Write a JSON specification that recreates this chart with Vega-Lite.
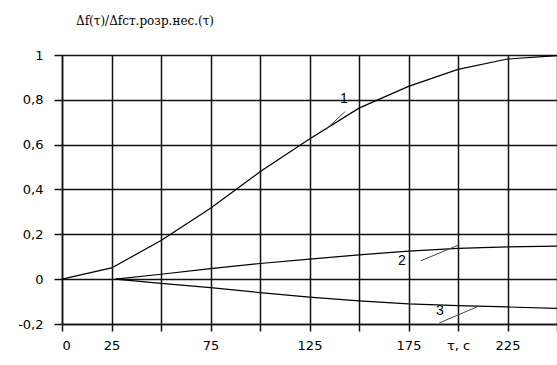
{
  "$schema": "https://vega.github.io/schema/vega-lite/v6.json",
  "width": 495,
  "height": 269,
  "autosize": {"type": "none"},
  "padding": {"left": 62, "top": 55, "right": 0, "bottom": 41},
  "background": "white",
  "config": {
    "view": {"stroke": null},
    "axis": {
      "gridColor": "#111",
      "gridWidth": 1.5,
      "gridOpacity": 1,
      "domainColor": "#111",
      "domainWidth": 1.5,
      "tickColor": "#111",
      "tickWidth": 1.5,
      "tickSize": 7,
      "labelFont": "DejaVu Sans",
      "labelFontSize": 13,
      "labelColor": "#000",
      "title": null
    }
  },
  "title": {
    "text": "Δf(τ)/Δfст.розр.нес.(τ)",
    "anchor": "start",
    "frame": "group",
    "dx": 14,
    "offset": 21,
    "font": "DejaVu Serif",
    "fontSize": 12,
    "fontWeight": "normal",
    "color": "#000"
  },
  "datasets": {
    "curves": [
      {"t": 0, "v": 0, "s": "1"},
      {"t": 25, "v": 0.05, "s": "1"},
      {"t": 50, "v": 0.172, "s": "1"},
      {"t": 75, "v": 0.316, "s": "1"},
      {"t": 100, "v": 0.479, "s": "1"},
      {"t": 125, "v": 0.625, "s": "1"},
      {"t": 150, "v": 0.763, "s": "1"},
      {"t": 175, "v": 0.86, "s": "1"},
      {"t": 200, "v": 0.936, "s": "1"},
      {"t": 225, "v": 0.982, "s": "1"},
      {"t": 250, "v": 0.997, "s": "1"},
      {"t": 27, "v": 0, "s": "2"},
      {"t": 50, "v": 0.022, "s": "2"},
      {"t": 75, "v": 0.047, "s": "2"},
      {"t": 100, "v": 0.07, "s": "2"},
      {"t": 125, "v": 0.089, "s": "2"},
      {"t": 150, "v": 0.108, "s": "2"},
      {"t": 175, "v": 0.125, "s": "2"},
      {"t": 200, "v": 0.137, "s": "2"},
      {"t": 225, "v": 0.144, "s": "2"},
      {"t": 250, "v": 0.147, "s": "2"},
      {"t": 27, "v": 0, "s": "3"},
      {"t": 50, "v": -0.019, "s": "3"},
      {"t": 75, "v": -0.038, "s": "3"},
      {"t": 100, "v": -0.06, "s": "3"},
      {"t": 125, "v": -0.08, "s": "3"},
      {"t": 150, "v": -0.097, "s": "3"},
      {"t": 175, "v": -0.11, "s": "3"},
      {"t": 200, "v": -0.118, "s": "3"},
      {"t": 225, "v": -0.124, "s": "3"},
      {"t": 250, "v": -0.13, "s": "3"}
    ],
    "leaders": [
      {"t": 142.9, "v": 0.747, "k": "1"},
      {"t": 133.3, "v": 0.668, "k": "1"},
      {"t": 181.2, "v": 0.082, "k": "2"},
      {"t": 200.2, "v": 0.152, "k": "2"},
      {"t": 190.6, "v": -0.195, "k": "3"},
      {"t": 210.3, "v": -0.121, "k": "3"}
    ],
    "labels": [
      {"t": 142.4, "v": 0.804, "txt": "1", "f": "DejaVu Serif"},
      {"t": 171.7, "v": 0.081, "txt": "2", "f": "DejaVu Sans"},
      {"t": 190.9, "v": -0.141, "txt": "3", "f": "DejaVu Sans"}
    ]
  },
  "layer": [
    {
      "data": {"name": "curves"},
      "mark": {"type": "line", "color": "#000", "strokeWidth": 1.2},
      "encoding": {
        "x": {
          "field": "t", "type": "quantitative",
          "scale": {"domain": [0, 250], "nice": false, "zero": false},
          "axis": {
            "values": [0, 25, 50, 75, 100, 125, 150, 175, 200, 225, 250],
            "labelPadding": 8,
            "labelExpr": "datum.value == 200 ? 'τ, с' : (datum.value == 50 || datum.value == 100 || datum.value == 150 || datum.value == 250) ? '' : datum.label"
          }
        },
        "y": {
          "field": "v", "type": "quantitative",
          "scale": {"domain": [-0.2, 1], "nice": false, "zero": false},
          "axis": {
            "values": [-0.2, 0, 0.2, 0.4, 0.6, 0.8, 1],
            "tickSize": 8,
            "labelPadding": 11,
            "labelExpr": "replace(replace(format(datum.value, '.1~f'), '.', ','), '\u2212', '-')"
          }
        },
        "detail": {"field": "s"}
      }
    },
    {
      "data": {"name": "leaders"},
      "mark": {"type": "line", "color": "#444", "strokeWidth": 1},
      "encoding": {
        "x": {"field": "t", "type": "quantitative"},
        "y": {"field": "v", "type": "quantitative"},
        "detail": {"field": "k"}
      }
    },
    {
      "data": {"name": "labels"},
      "mark": {"type": "text", "fontSize": 14, "color": "#000", "baseline": "middle", "align": "center"},
      "encoding": {
        "x": {"field": "t", "type": "quantitative"},
        "y": {"field": "v", "type": "quantitative"},
        "text": {"field": "txt"},
        "font": {"field": "f", "type": "nominal", "scale": null}
      }
    }
  ]
}
